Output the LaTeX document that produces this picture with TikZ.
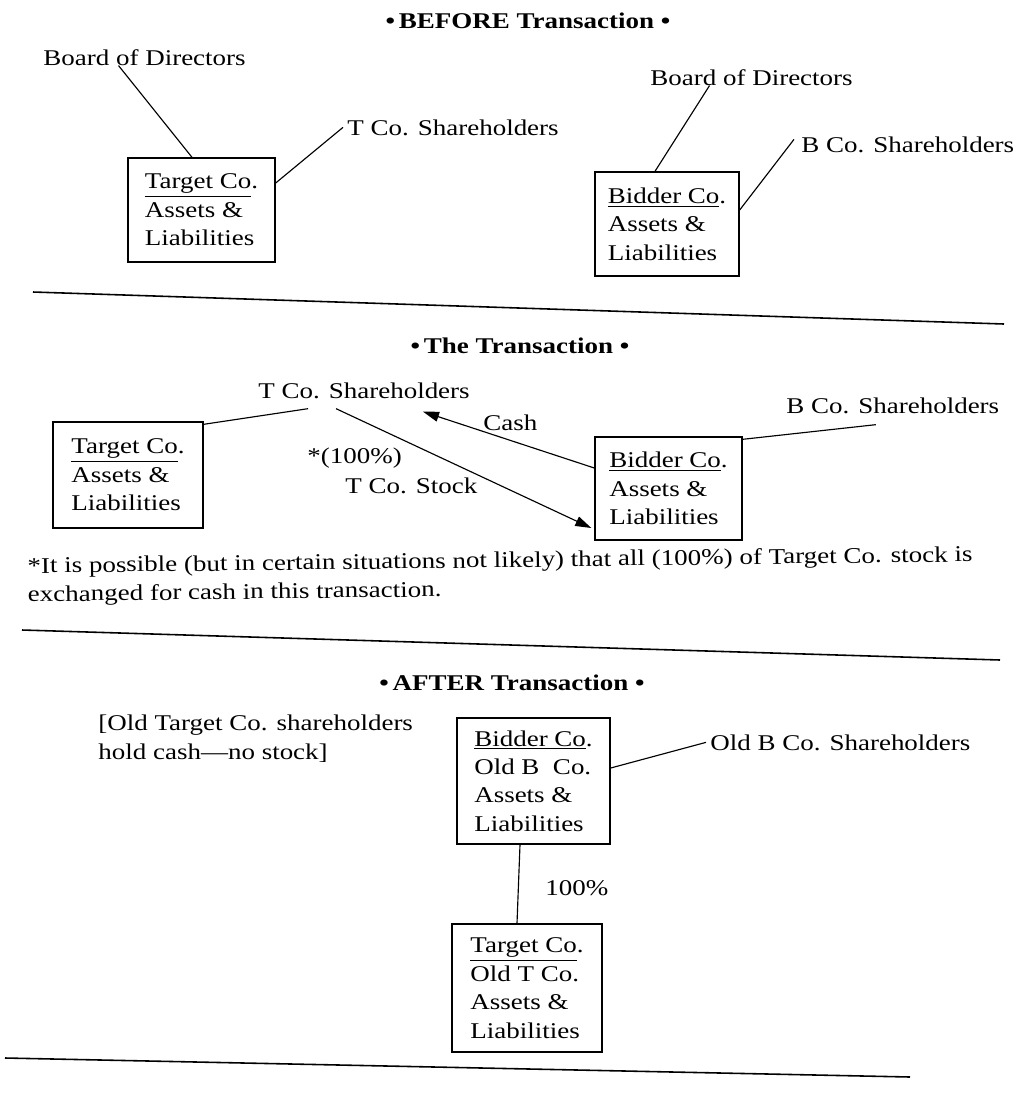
\documentclass[tikz,border=0pt]{standalone}
\usepackage{fontspec}
\setmainfont[FakeStretch=1.2]{Liberation Serif}
\usetikzlibrary{arrows.meta}

\tikzset{
  txt/.style={font=\fontsize{12.8}{16.2}\selectfont, inner sep=0pt},
  lbl/.style={txt, anchor=base west},
  head/.style={txt, anchor=base, font=\fontsize{12.8}{16.2}\selectfont\bfseries},
  cobox/.style={txt, draw, line width=0.8pt, align=left},
  link/.style={line width=0.65pt},
  rule/.style={line width=0.9pt},
  flow/.style={line width=0.65pt, -{Triangle[length=0.32cm,width=0.2cm]}}
}

\begin{document}
\begin{tikzpicture}[x=0.02cm,y=-0.02cm]
\useasboundingbox (0,0) rectangle (1019,1100);

% before
\node[head] (hbefore) at (528,28) {•\,BEFORE Transaction •};
\node[lbl] (bodT) at (43,65) {Board of Directors};
\node[lbl] (tshT) at (347,135) {T Co. Shareholders};
\node[cobox, minimum width=2.94cm, minimum height=2.08cm] (tbox) at (201.5,210)
  {\underline{Target Co}.\\Assets \&\\Liabilities};
\node[lbl] (bodB) at (650,85) {Board of Directors};
\node[lbl] (bshB) at (801,152) {B Co. Shareholders};
\node[cobox, minimum width=2.88cm, minimum height=2.08cm] (bbox) at (667,224)
  {\underline{Bidder Co}.\\Assets \&\\Liabilities};

\draw[link] ([xshift=-0.52cm]bodT.south) -- ([xshift=-0.19cm]tbox.north);
\draw[link] ([yshift=0.54cm]tbox.east) -- ([xshift=-0.08cm]tshT.west);
\draw[link] ([xshift=-0.84cm]bodB.south) -- ([xshift=-0.24cm]bbox.north);
\draw[link] ([yshift=0.28cm]bbox.east) -- ([xshift=-0.14cm,yshift=0.1cm]bshB.west);

\draw[rule] (33,292) -- (1004,324);

% the transaction
\node[head] (htrans) at (520,353) {•\,The Transaction •};
\node[lbl] (tshT2) at (258,398) {T Co. Shareholders};
\node[lbl] (bshB2) at (786,413) {B Co. Shareholders};
\node[cobox, minimum width=3cm, minimum height=2.12cm] (tbox2) at (128,475)
  {\underline{Target Co}.\\Assets \&\\Liabilities};
\node[cobox, minimum width=2.94cm, minimum height=2.06cm] (bbox2) at (668.5,488.5)
  {\underline{Bidder Co}.\\Assets \&\\Liabilities};
\node[lbl] (cash) at (483,430) {Cash};
\node[lbl] (pct) at (307,463) {*(100\%)};
\node[lbl] (stock) at (345,493) {T Co. Stock};

\draw[link] ([yshift=-0.06cm]tbox2.north east) -- ([xshift=-1.12cm,yshift=-0.2cm]tshT2.south);
\draw[link] ([yshift=-0.06cm]bbox2.north east) -- ([xshift=-0.34cm,yshift=-0.22cm]bshB2.south);
\draw[flow] ([yshift=0.41cm]bbox2.west) -- ([xshift=1.18cm,yshift=-0.26cm]tshT2.south);
\draw[flow] ([xshift=-0.56cm,yshift=-0.2cm]tshT2.south) -- ([xshift=-0.06cm,yshift=-0.79cm]bbox2.west);

\node[txt, anchor=north west, align=left, rotate=0.7] (note) at (27,557)
  {*It is possible (but in certain situations not likely) that all (100\%) of Target Co. stock is\\
   exchanged for cash in this transaction.};

\draw[rule] (22,630) -- (1000,660);

% after
\node[head] (hafter) at (512,690) {•\,AFTER Transaction •};
\node[txt, anchor=north west, align=left] (oldt) at (98,715)
  {[Old Target Co. shareholders\\hold cash---no stock]};
\node[cobox, minimum width=3.06cm, minimum height=2.52cm] (bbox3) at (533.5,781)
  {\underline{Bidder Co}.\\Old B\ \ Co.\\Assets \&\\Liabilities};
\node[lbl] (oshB) at (710,750) {Old B Co. Shareholders};
\node[cobox, minimum width=3cm, minimum height=2.56cm] (tbox3) at (527,988)
  {\underline{Target Co}.\\Old T Co.\\Assets \&\\Liabilities};
\node[lbl] (full) at (545,895) {100\%};

\draw[link] ([yshift=0.26cm]bbox3.east) -- ([xshift=-0.08cm]oshB.west);
\draw[link] ([xshift=-0.27cm]bbox3.south) -- ([xshift=-0.2cm]tbox3.north);

\draw[rule] (5,1058) -- (910,1077);
\end{tikzpicture}
\end{document}
